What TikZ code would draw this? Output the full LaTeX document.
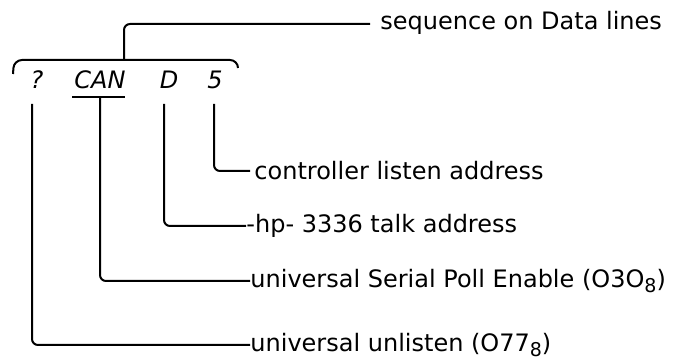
\documentclass[tikz,border=0pt]{standalone}
\usepackage{fontspec}
\setmainfont{DejaVu Sans}
\newcommand{\octsub}[1]{\raisebox{-0.35ex}{\fontsize{9.5}{10}\selectfont #1}}
\begin{document}
\begin{tikzpicture}[x=0.5pt,y=-0.5pt,
  lbl/.style={anchor=west, inner sep=0pt, font=\fontsize{12}{14}\selectfont},
  chr/.style={anchor=base, inner sep=0pt, font=\fontsize{12}{14}\selectfont\itshape},
  conn/.style={line width=1pt, rounded corners=3pt}]
\useasboundingbox (0,0) rectangle (674,362);
% characters
\node[chr] (q) at (37,89) {?};
\node[chr] (can) at (100,89) {CAN};
\node[chr] (d) at (169,89) {D};
\node[chr] (five) at (215,89) {5};
% labels
\node[lbl] (seq) at (380,23) {sequence on Data lines};
\node[lbl] (ctrl) at (254,171) {controller listen address};
\node[lbl] (hp) at (246,226) {-hp- 3336 talk address};
\node[lbl] (spe) at (250,281) {universal Serial Poll Enable (O3O\octsub{8})};
\node[lbl] (unl) at (250,345) {universal unlisten (O77\octsub{8})};
% bracket
\draw[conn, rounded corners=4pt] (13,74) -- (14,60) -- (238,60) -- (238,68);
\coordinate (stem) at (124,60);
\draw[conn] (stem) -- (124,24) -- ([xshift=-5pt]seq.west |- 0,24);
% underline
\coordinate (ulL) at (72,97);
\coordinate (ulR) at (125,97);
\draw[line width=1pt] (ulL) -- (ulR);
% connectors
\coordinate (tq) at (32,104);
\coordinate (tcan) at (100,97);
\coordinate (td) at (164,104);
\coordinate (tfive) at (214,104);
\draw[conn] (tfive) |- ([xshift=-2pt]ctrl.west);
\draw[conn] (td) |- (hp.west);
\draw[conn] (tcan) |- (spe.west);
\draw[conn] (tq) |- (unl.west);
\end{tikzpicture}
\end{document}
